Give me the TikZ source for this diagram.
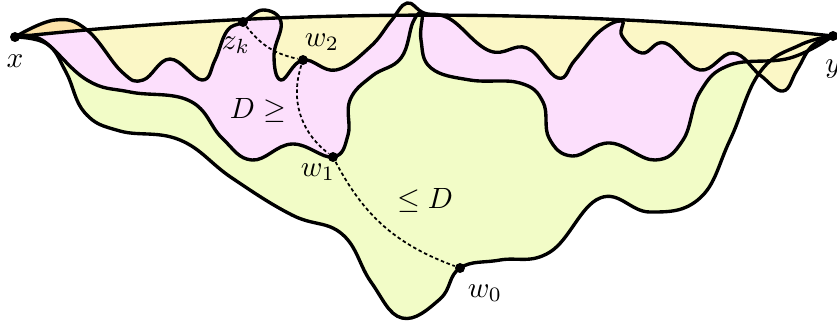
\documentclass[tikz,border=0pt]{standalone}
\usepackage{tikz}
\usetikzlibrary{positioning}
\usepackage{xcolor}
\definecolor{yelc}{RGB}{251,247,198}
\definecolor{pnkc}{RGB}{252,223,252}
\definecolor{grnc}{RGB}{242,252,199}
\definecolor{orgc}{RGB}{252,226,168}
% the three wavy curves from x to y
\newcommand{\curA}{plot[smooth, tension=0.7] coordinates {(15,37) (55,20) (87,30) (122,72) (143,80) (170,59) (202,80) (215,60) (227,31) (243,22) (263,10) (281,22) (274,55) (281,80) (303,60) (336,70) (370,47) (391,21) (407,3) (424,13) (450,19) (490,51) (527,48) (558,78) (575,60) (600,31) (622,21) (622,36) (642,53) (665,43) (700,70) (733,53) (760,75) (783,91) (797,70) (812,46) (833,36)}}
\newcommand{\curB}{plot[smooth, tension=0.7] coordinates {(15,37) (42,40) (87,80) (130,92) (190,101) (222,138) (252,160) (292,144) (333,157) (348,135) (350,100) (372,76) (401,58) (413,22) (422,14) (421,40) (431,68) (470,80) (520,83) (543,102) (549,138) (572,156) (610,143) (655,160) (683,140) (700,92) (730,65) (790,58) (833,36)}}
\newcommand{\curC}{plot[smooth, tension=0.7] coordinates {(15,37) (47,44) (66,72) (85,113) (120,131) (180,140) (232,178) (292,215) (342,234) (371,282) (402,318) (440,299) (460,268) (500,260) (550,252) (600,198) (650,212) (700,198) (730,140) (760,72) (800,45) (833,36)}}
\newcommand{\topback}{.. controls (570,8) and (280,8) .. (15,37) -- cycle}

\begin{document}
\begin{tikzpicture}[x=0.012cm, y=-0.012cm,
      vtx/.style={circle, fill=black, inner sep=0pt, minimum size=3.4pt},
      bd/.style={line width=1.15pt, line join=round},
      geo/.style={line width=0.6pt, dash pattern=on 1.2pt off 0.9pt},
      lbl/.style={inner sep=1pt}]
    \useasboundingbox (0,0) rectangle (837,321);
    % regions
    \fill[grnc] \curC \topback;
    \fill[pnkc] \curB \topback;
    \fill[yelc] \curA \topback;
    \fill[orgc] plot[smooth, tension=0.7] coordinates {(15,37) (55,20) (87,30)} -- cycle;
    % boundaries
    \draw[bd] \curC;
    \draw[bd] \curB;
    \draw[bd] \curA;
    \draw[bd] (15,37) .. controls (280,8) and (570,8) .. (833,36);
    % points
    \node[vtx] (x) at (15,37) {};
    \node[vtx] (y) at (833,36) {};
    \node[vtx] (zk) at (243,22) {};
    \node[vtx] (w2) at (303,60) {};
    \node[vtx] (w1) at (333,157) {};
    \node[vtx] (w0) at (460,268) {};
    \draw[geo] (zk) to[bend right=20] (w2);
    \draw[geo] (w2) to[bend right=35] (w1);
    \draw[geo] (w1) to[bend right=21] (w0);
    % labels
    \node[lbl, below=3pt of x] {$x$};
    \node[lbl, below=5pt of y] {$y$};
    \node[lbl] at (236,45) {$z_k$};
    \node[lbl] at (322,42) {$w_2$};
    \node[lbl] at (318,172) {$w_1$};
    \node[lbl] at (485,293) {$w_0$};
    \node[lbl] at (258,110) {$D \geq$};
    \node[lbl] at (425,200) {$\leq D$};
\end{tikzpicture}
\end{document}
